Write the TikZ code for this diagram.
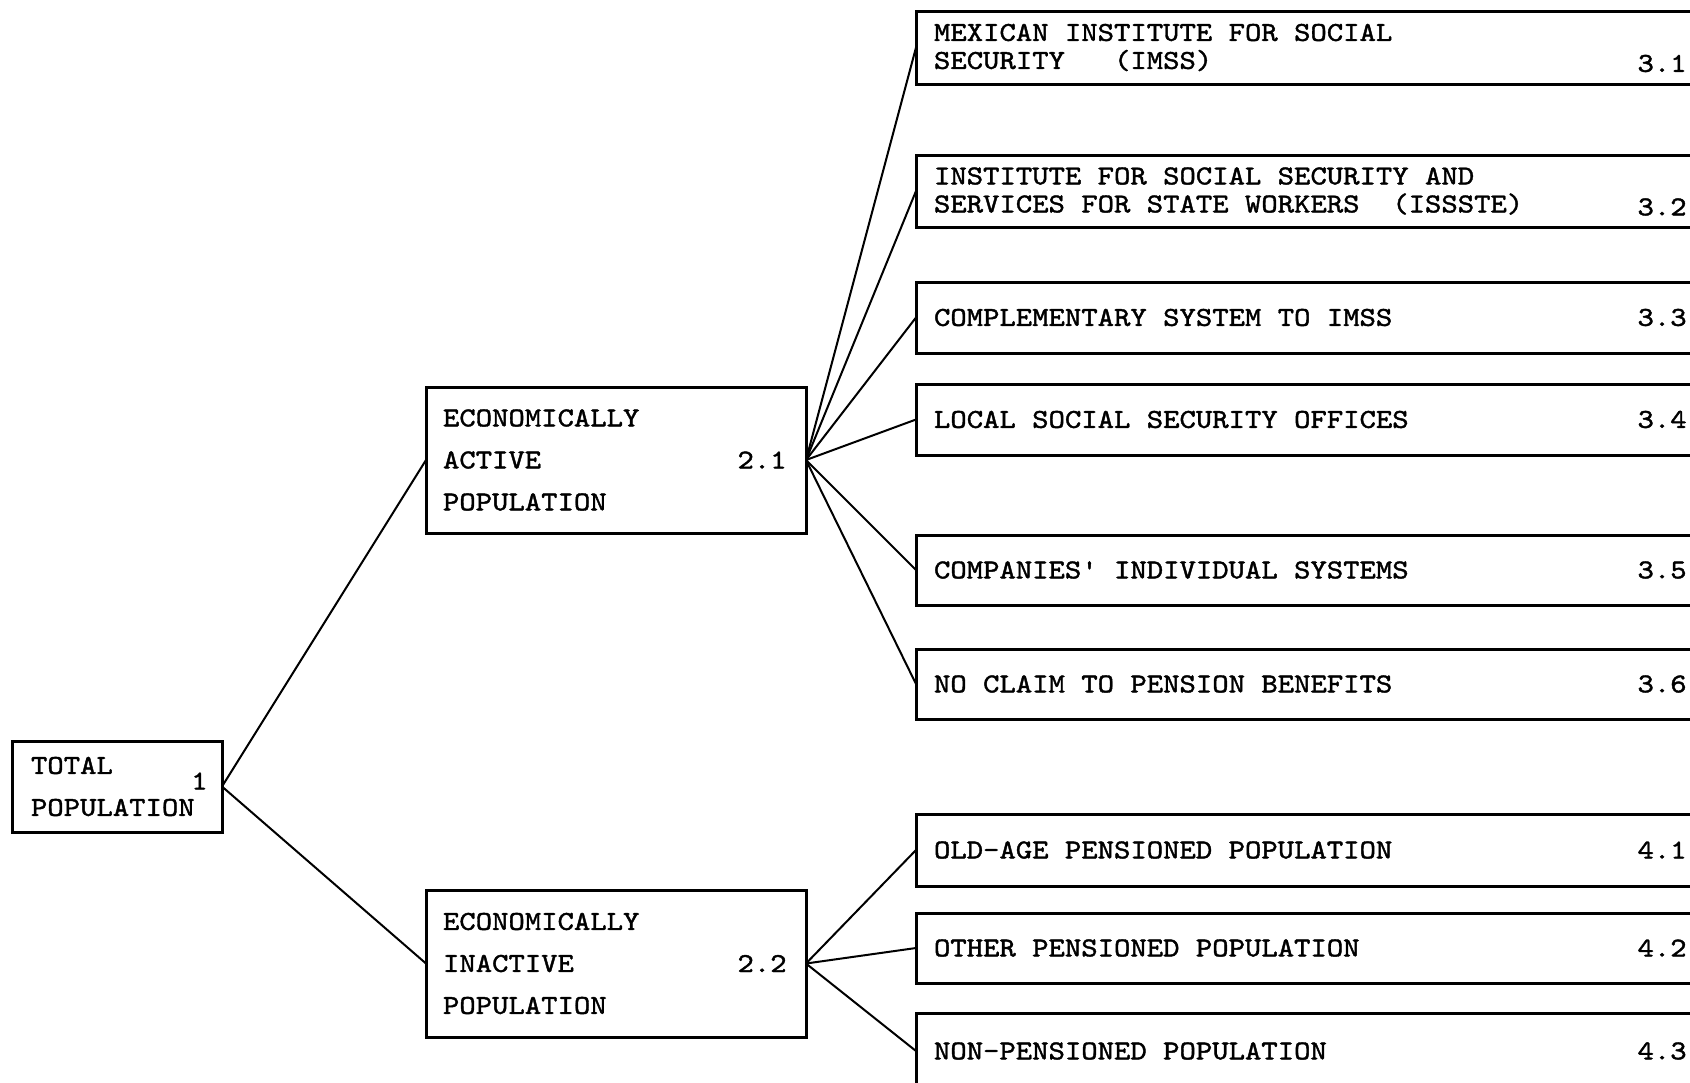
\documentclass[tikz,border=0pt]{standalone}
\usepackage{fontspec}
\newfontfamily\typefont{lmmono10-regular.otf}[FakeStretch=1.142,FakeBold=1.5]
\newcommand\twfont[1]{\typefont\fontsize{13.65pt}{#1}\selectfont}
\usetikzlibrary{positioning}

\begin{document}
\begin{tikzpicture}[x=0.5pt,y=-0.5pt,
  box/.style={draw,line width=1.5pt,outer sep=0pt,anchor=north west,
              align=flush left,inner ysep=0pt,font=\twfont{21pt}},
  rbox/.style={box,minimum width=402pt,text width=384pt,inner xsep=9pt,
               font=\twfont{14pt}},
  num/.style={inner sep=0pt,anchor=east,font=\twfont{14pt}},
  link/.style={line width=1pt}]
\useasboundingbox (0,0) rectangle (1690,1082);
\clip (0,0) rectangle (1690,1082);
\coordinate (rim) at (1687,0);
% level 1 and 2
\node[box,minimum width=105pt,minimum height=45.5pt,text width=86pt,
      inner xsep=9.5pt] (b1) at (12,741) {TOTAL\\POPULATION};
\node[box,minimum width=190pt,minimum height=73pt,text width=173pt,
      inner xsep=8.5pt] (b21) at (426,387) {ECONOMICALLY\\ACTIVE\\POPULATION};
\node[box,minimum width=190pt,minimum height=73.5pt,text width=173pt,
      inner xsep=8.5pt] (b22) at (426,890) {ECONOMICALLY\\INACTIVE\\POPULATION};
\node[num] (n1) at ([xshift=-7pt,yshift=2.75pt]b1.east) {1};
\node[num] (n21) at ([xshift=-9.5pt]b21.east) {2.1};
\node[num] (n22) at ([xshift=-9.5pt]b22.east) {2.2};
% level 3
\node[rbox,minimum height=36.5pt] (b31) at (916,11)
  {MEXICAN INSTITUTE FOR SOCIAL\\SECURITY~~~(IMSS)};
\node[rbox,minimum height=36pt] (b32) at (916,155)
  {INSTITUTE FOR SOCIAL SECURITY AND\\SERVICES FOR STATE WORKERS~~(ISSSTE)};
\node[rbox,minimum height=35.5pt] (b33) at (916,282) {COMPLEMENTARY SYSTEM TO IMSS};
\node[rbox,minimum height=35.5pt] (b34) at (916,384) {LOCAL SOCIAL SECURITY OFFICES};
\node[rbox,minimum height=35pt] (b35) at (916,535) {COMPANIES' INDIVIDUAL SYSTEMS};
\node[rbox,minimum height=35pt] (b36) at (916,649) {NO CLAIM TO PENSION BENEFITS};
% level 4
\node[rbox,minimum height=36pt] (b41) at (916,814) {OLD-AGE PENSIONED POPULATION};
\node[rbox,minimum height=35pt] (b42) at (916,913) {OTHER PENSIONED POPULATION};
\node[rbox,minimum height=38pt] (b43) at (916,1013) {NON-PENSIONED POPULATION};
\node[num] (n31) at ([yshift=-8pt]b31.west -| rim) {3.1};
\node[num] (n32) at ([yshift=-8pt]b32.west -| rim) {3.2};
\node[num] (n33) at (b33.west -| rim) {3.3};
\node[num] (n34) at (b34.west -| rim) {3.4};
\node[num] (n35) at (b35.west -| rim) {3.5};
\node[num] (n36) at (b36.west -| rim) {3.6};
\node[num] (n41) at (b41.west -| rim) {4.1};
\node[num] (n42) at (b42.west -| rim) {4.2};
\node[num] (n43) at (b43.west -| rim) {4.3};
% connectors
\draw[link] (b1.east) -- (b21.west);
\draw[link] (b1.east) -- (b22.west);
\foreach \t in {b31,b32,b33,b34,b35,b36}
  \draw[link] (b21.east) -- (\t.west);
\foreach \t in {b41,b42,b43}
  \draw[link] (b22.east) -- (\t.west);
\end{tikzpicture}
\end{document}
